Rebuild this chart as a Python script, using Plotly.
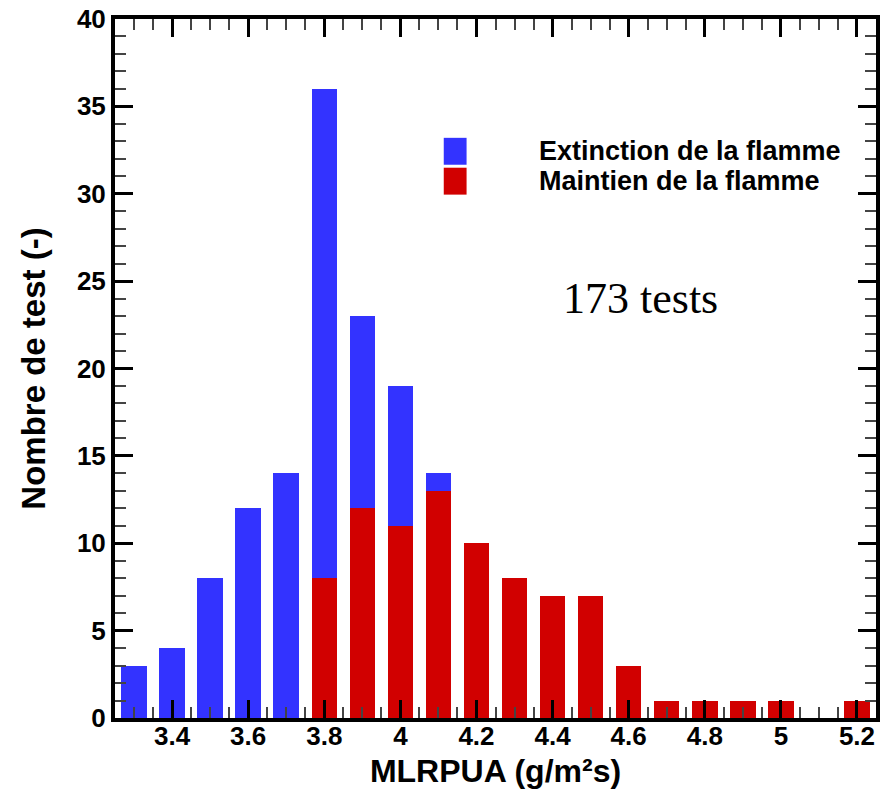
import plotly.graph_objects as go

# Data
mlrpua = [3.3, 3.4, 3.5, 3.6, 3.7, 3.8, 3.9, 4.0, 4.1, 4.2, 4.3, 4.4, 4.5, 4.6, 4.7, 4.8, 4.9, 5.0, 5.1, 5.2]
maintien = [0, 0, 0, 0, 0, 8, 12, 11, 13, 10, 8, 7, 7, 3, 1, 1, 1, 1, 0, 1]
extinction = [3, 4, 8, 12, 14, 28, 11, 8, 1, 0, 0, 0, 0, 0, 0, 0, 0, 0, 0, 0]
x_tickvals = [3.4, 3.6, 3.8, 4.0, 4.2, 4.4, 4.6, 4.8, 5.0, 5.2]
x_ticktext = ["3.4", "3.6", "3.8", "4", "4.2", "4.4", "4.6", "4.8", "5", "5.2"]
y_tickvals = [0, 5, 10, 15, 20, 25, 30, 35, 40]

BLUE = "#3333ff"
RED = "#d10000"
FONT = "Liberation Sans, Arial, sans-serif"

fig = go.Figure()
fig.add_trace(go.Bar(x=mlrpua, y=maintien, marker=dict(color=RED, line=dict(width=0)),
                     width=0.067, name="Maintien de la flamme", showlegend=False))
fig.add_trace(go.Bar(x=mlrpua, y=extinction, marker=dict(color=BLUE, line=dict(width=0)),
                     width=0.067, name="Extinction de la flamme", showlegend=False))

# manual legend
leg = [("Extinction de la flamme", BLUE, 33.2, 31.66, 32.45),
       ("Maintien de la flamme", RED, 31.49, 29.95, 30.73)]
for name, col, y1, y0, yt in leg:
    fig.add_shape(type="rect", xref="x", yref="y", x0=4.114, x1=4.174, y0=y0, y1=y1,
                  fillcolor=col, line=dict(width=0))
    fig.add_annotation(x=4.36, y=yt, xref="x", yref="y", text=name, showarrow=False,
                       xanchor="left", yanchor="middle",
                       font=dict(family=FONT, size=27, color="black", weight="bold"))

fig.add_annotation(x=4.63, y=24.0, xref="x", yref="y", text="173 tests", showarrow=False,
                   xanchor="center", yanchor="middle",
                   font=dict(family="Liberation Serif, serif", size=44, color="black"))

axis_common = dict(showline=True, linewidth=4, linecolor="black", mirror="allticks",
                   ticks="inside", ticklen=18, tickwidth=3, tickcolor="black",
                   showgrid=False, zeroline=False,
                   tickfont=dict(family=FONT, size=26, color="black", weight="bold"))

fig.update_xaxes(range=[3.25, 5.25], tickmode="array", tickvals=x_tickvals, ticktext=x_ticktext,
                 ticklabelstandoff=-8,
                 minor=dict(ticks="inside", ticklen=11, tickwidth=1.5, tickcolor="#444", dtick=0.05, tick0=3.25, showgrid=False),
                 title=dict(text="MLRPUA (g/m²s)", standoff=10,
                            font=dict(family=FONT, size=32, color="black", weight="bold")),
                 **axis_common)
fig.update_yaxes(range=[0, 40], tickmode="array", tickvals=y_tickvals,
                 minor=dict(ticks="inside", ticklen=11, tickwidth=1.5, tickcolor="#444", dtick=1, tick0=0, showgrid=False),
                 title=dict(text="Nombre de test (-)", standoff=22,
                            font=dict(family=FONT, size=33, color="black", weight="bold")),
                 **axis_common)

fig.update_layout(width=882, height=792, barmode="stack", bargap=0,
                  margin=dict(l=115, r=2, t=19, b=74),
                  plot_bgcolor="white", paper_bgcolor="white", showlegend=False)

fig.write_html("out.html")
